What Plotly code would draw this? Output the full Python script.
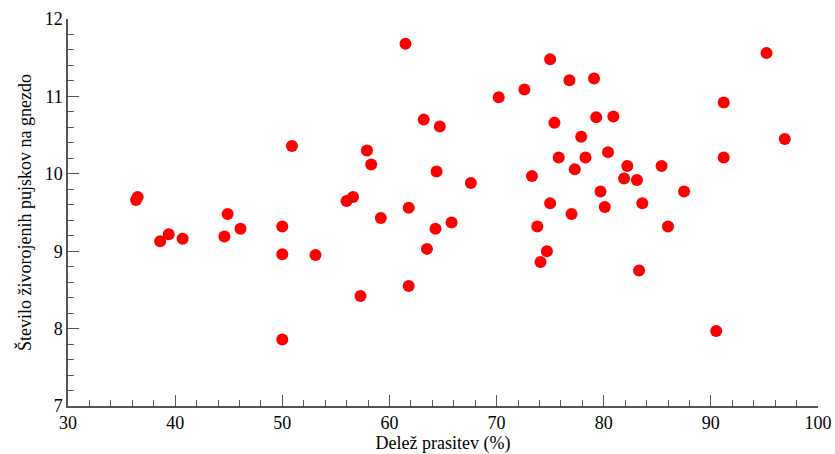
import plotly.graph_objects as go

# Delež prasitev (%)
share_sows = [36.35, 36.5, 38.6, 39.4, 40.7, 44.6, 44.9, 46.1, 50.0, 50.0, 50.0,
              50.9, 53.1, 56.0, 56.6, 57.3, 57.9, 58.3, 59.2, 61.5, 61.8, 61.8,
              63.2, 63.5, 64.3, 64.4, 64.7, 65.8, 67.6, 70.2, 72.6, 73.3, 73.8,
              74.1, 74.7, 75.0, 75.0, 75.4, 75.8, 76.8, 77.0, 77.3, 77.9, 78.3,
              79.1, 79.3, 79.7, 80.1, 80.4, 80.9, 81.9, 82.2, 83.1, 83.3, 83.6,
              85.4, 86.0, 87.5, 90.5, 91.2, 91.2, 95.2, 96.9]
# Število živorojenih pujskov na gnezdo
piglets = [9.66, 9.70, 9.13, 9.22, 9.16, 9.19, 9.48, 9.29, 9.32, 8.96, 7.86,
           10.36, 8.95, 9.65, 9.70, 8.42, 10.30, 10.12, 9.43, 11.68, 9.56, 8.55,
           10.70, 9.03, 9.29, 10.03, 10.61, 9.37, 9.88, 10.99, 11.09, 9.97, 9.32,
           8.86, 9.00, 11.48, 9.62, 10.66, 10.21, 11.21, 9.48, 10.06, 10.48, 10.21,
           11.23, 10.73, 9.77, 9.57, 10.28, 10.74, 9.94, 10.10, 9.92, 8.75, 9.62,
           10.10, 9.32, 9.77, 7.97, 10.92, 10.21, 11.56, 10.45]

x_ticks = [30, 40, 50, 60, 70, 80, 90, 100]
y_ticks = [7, 8, 9, 10, 11, 12]

FONT = "Liberation Serif"
AXIS_COLOR = "#555555"

fig = go.Figure(go.Scatter(
    x=share_sows, y=piglets, mode="markers",
    marker=dict(color="#ff0000", size=12, line=dict(width=0)),
    cliponaxis=False,
))

fig.update_layout(
    width=835, height=454,
    margin=dict(l=68, r=17, t=19, b=48),
    paper_bgcolor="white", plot_bgcolor="white",
    showlegend=False,
    font=dict(family=FONT, size=18, color="black"),
)
fig.update_xaxes(
    range=[30, 100], tickvals=x_ticks, ticktext=[str(v) for v in x_ticks],
    automargin=False,
    showgrid=False, zeroline=False,
    showline=True, linecolor=AXIS_COLOR, linewidth=1.5,
    ticks="inside", ticklen=11, tickcolor=AXIS_COLOR, tickwidth=1.2,
    minor=dict(dtick=2, tick0=30, ticks="inside", ticklen=6, tickcolor=AXIS_COLOR, tickwidth=1, showgrid=False),
    tickfont=dict(family=FONT, size=18, color="black"),
    title=dict(text="Delež prasitev (%)", font=dict(family=FONT, size=18, color="black"), standoff=4),
)
fig.update_yaxes(
    range=[7, 12], tickvals=y_ticks, ticktext=[str(v) for v in y_ticks],
    automargin=False,
    showgrid=False, zeroline=False,
    showline=True, linecolor=AXIS_COLOR, linewidth=1.5,
    ticks="inside", ticklen=11, tickcolor=AXIS_COLOR, tickwidth=1.2,
    minor=dict(dtick=0.2, tick0=7, ticks="inside", ticklen=6, tickcolor=AXIS_COLOR, tickwidth=1, showgrid=False),
    tickfont=dict(family=FONT, size=18, color="black"),
    title=dict(text="Število živorojenih pujskov na gnezdo", font=dict(family=FONT, size=18, color="black"), standoff=8),
)

fig.write_html(
    "out.html",
    config={"displayModeBar": False},
    post_script="document.body.style.margin='0';document.body.style.overflow='hidden';",
)
